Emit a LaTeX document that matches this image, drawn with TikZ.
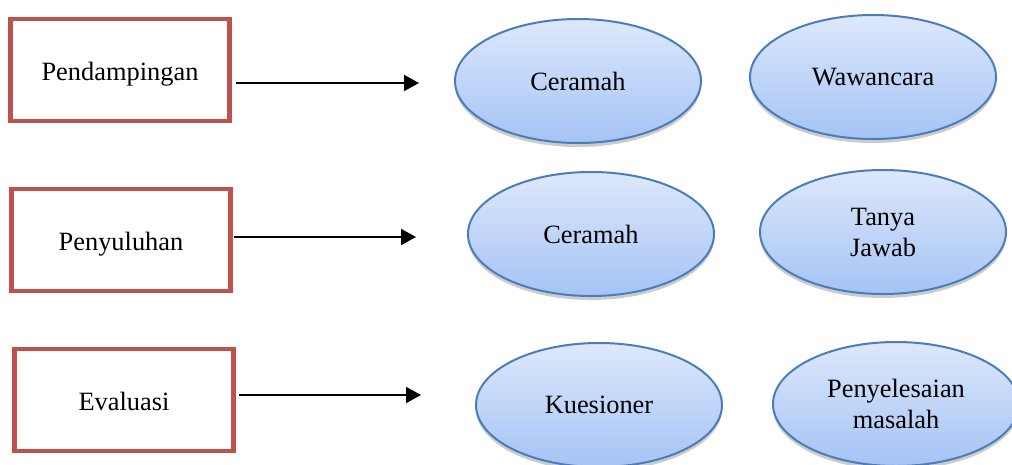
\documentclass[tikz,border=0pt]{standalone}
\usepackage{fontspec}
\setmainfont{Liberation Serif}
\usetikzlibrary{shapes.geometric,arrows.meta,shadows}
\definecolor{boxred}{HTML}{C0504D}
\definecolor{ellborder}{HTML}{4A7EBB}
\definecolor{elltop}{HTML}{DDE8FB}
\definecolor{ellbot}{HTML}{A5C3F5}
\tikzset{
  stagebox/.style={draw=boxred, line width=4.5pt, fill=white, minimum width=219pt, minimum height=102pt, inner sep=0pt, text height=25pt, text depth=5pt, font=\fontsize{26.4}{31}\selectfont},
  methodell/.style={ellipse, draw=ellborder, line width=2pt, top color=elltop, bottom color=ellbot, minimum width=246pt, minimum height=124pt, inner sep=0pt, align=center, font=\fontsize{26.4}{31}\selectfont, drop shadow={shadow xshift=0pt, shadow yshift=-4pt, opacity=0.2, fill=black}},
  flowarrow/.style={line width=2pt, -{Triangle[length=15pt,width=16pt]}}
}
\begin{document}
\begin{tikzpicture}[x=1pt,y=-1pt]
\useasboundingbox (0,0) rectangle (1012,464);
\node[stagebox] (b1) at (120,70) {Pendampingan};
\node[stagebox] (b2) at (121,240) {Penyuluhan};
\node[stagebox] (b3) at (124,400) {Evaluasi};
\node[methodell] (e1) at (578,81) {Ceramah};
\node[methodell] (e2) at (873,77) {Wawancara};
\node[methodell] (e3) at (591,234) {Ceramah};
\node[methodell] (e4) at (883,232) {Tanya\\Jawab};
\node[methodell] (e5) at (599,405) {Kuesioner};
\node[methodell] (e6) at (896,404) {Penyelesaian\\masalah};
\coordinate (t1) at (419,83);
\coordinate (t2) at (416,237);
\coordinate (t3) at (421,395);
\draw[flowarrow] ([xshift=4pt]b1.east |- t1) -- (t1);
\draw[flowarrow] ([xshift=1pt]b2.east |- t2) -- (t2);
\draw[flowarrow] ([xshift=3pt]b3.east |- t3) -- (t3);
\end{tikzpicture}
\end{document}
